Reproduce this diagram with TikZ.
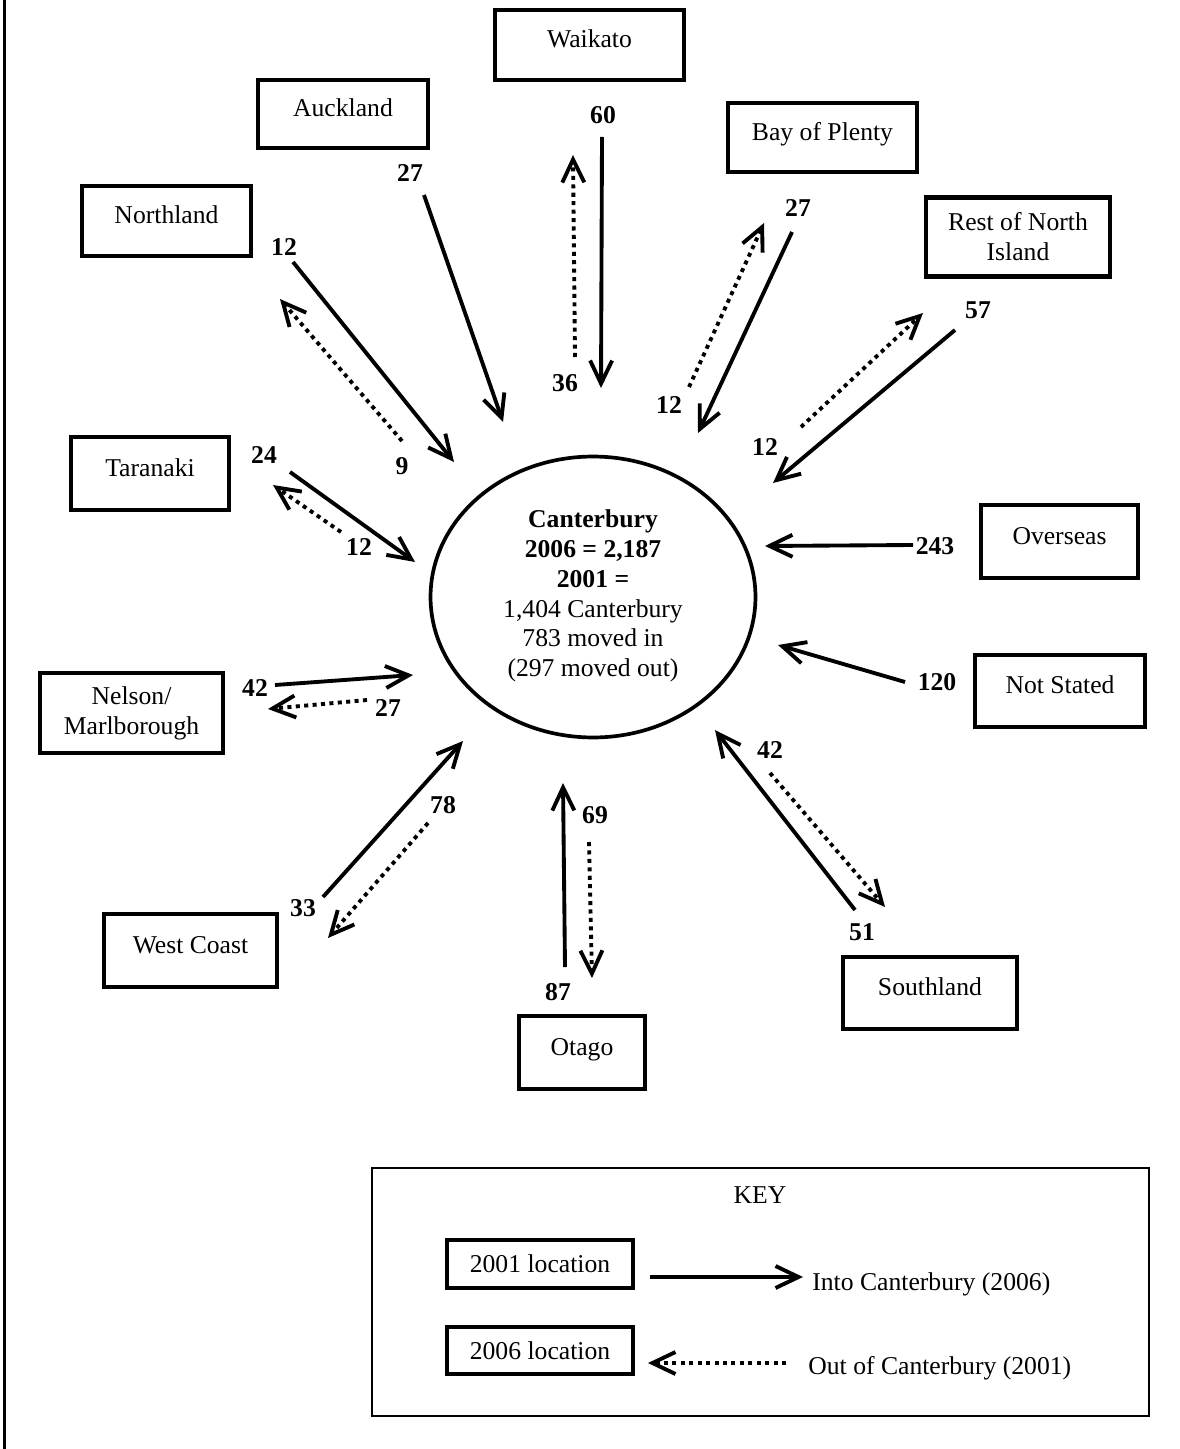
\documentclass[tikz,border=0pt]{standalone}
\usepackage{fontspec}
\setmainfont{Liberation Serif}
\usetikzlibrary{arrows.meta,shapes.geometric}

\begin{document}
\fontsize{14.6}{17}\selectfont
\begin{tikzpicture}[x=0.02cm, y=-0.02cm,
region-base/.style={rectangle, draw=black, line width=2.4pt, align=center, inner sep=0pt},
region/.style={region-base, text height=2ex, text depth=1.5ex},
hub/.style={ellipse, draw=black, line width=2.1pt, minimum width=6.5cm, minimum height=5.62cm},
num/.style={font=\bfseries, inner sep=1pt},
flow-in/.style={line width=2.2pt, -{Straight Barb[length=4.6mm, width=4.4mm]}},
flow-out/.style={flow-in, dash pattern=on 2.3pt off 2.5pt},
key-frame/.style={rectangle, draw=black, line width=0.9pt}
]
\useasboundingbox (0,0) rectangle (1179,1449);
\draw[line width=1.2pt] (4.5,0) -- (4.5,1449);

% centre
\node[hub] (cant) at (593,597) {};
\node[align=center] (cant-text) at (593,596) {\textbf{Canterbury}\\ \textbf{2006 = 2,187}\\ \textbf{2001 =}\\
1,404 Canterbury\\ 783 moved in\\ (297 moved out)};

% regions
\node[region, minimum width=3.38cm, minimum height=1.40cm] (nl) at (166.5,221) {Northland};
\node[region, minimum width=3.40cm, minimum height=1.36cm] (ak) at (343,114) {Auckland};
\node[region, minimum width=3.78cm, minimum height=1.40cm] (wk) at (589.5,45) {Waikato};
\node[region, minimum width=3.78cm, minimum height=1.38cm] (bp) at (822.5,137.5) {Bay of Plenty};
\node[region-base, minimum width=3.68cm, minimum height=1.58cm] (rn) at (1018,237) {Rest of North\\ Island};
\node[region, minimum width=3.16cm, minimum height=1.46cm] (tk) at (150,473.5) {Taranaki};
\node[region, minimum width=3.14cm, minimum height=1.46cm] (os) at (1059.5,541.5) {Overseas};
\node[region, minimum width=3.40cm, minimum height=1.44cm] (ns) at (1060,691) {Not Stated};
\node[region-base, minimum width=3.66cm, minimum height=1.60cm] (nm) at (131.5,713) {Nelson/\\ Marlborough};
\node[region, minimum width=3.46cm, minimum height=1.46cm] (wc) at (190.5,950.5) {West Coast};
\node[region, minimum width=2.52cm, minimum height=1.46cm] (ot) at (582,1052.5) {Otago};
\node[region, minimum width=3.48cm, minimum height=1.44cm] (sl) at (930,993) {Southland};

% Northland
\node[num] (nl-in-n) at (284,247) {12};
\node[num] (nl-out-n) at (402,466) {9};
\coordinate (nl-in-a) at (293,262); \coordinate (nl-in-b) at (454,462);
\coordinate (nl-out-a) at (402,441); \coordinate (nl-out-b) at (280,299);
\draw[flow-in] (nl-in-a) -- (nl-in-b);
\draw[flow-out] (nl-out-a) -- (nl-out-b);

% Auckland
\node[num] (ak-in-n) at (410,173) {27};
\coordinate (ak-in-a) at (424,195); \coordinate (ak-in-b) at (503,422);
\draw[flow-in] (ak-in-a) -- (ak-in-b);

% Waikato
\node[num] (wk-in-n) at (603,115) {60};
\node[num] (wk-out-n) at (565,383) {36};
\coordinate (wk-in-a) at (602,137); \coordinate (wk-in-b) at (601,388);
\coordinate (wk-out-a) at (575,357); \coordinate (wk-out-b) at (573,155);
\draw[flow-in] (wk-in-a) -- (wk-in-b);
\draw[flow-out] (wk-out-a) -- (wk-out-b);

% Bay of Plenty
\node[num] (bp-in-n) at (798,208) {27};
\node[num] (bp-out-n) at (669,405) {12};
\coordinate (bp-in-a) at (792,232); \coordinate (bp-in-b) at (698,433);
\coordinate (bp-out-a) at (689,387); \coordinate (bp-out-b) at (764,223);
\draw[flow-in] (bp-in-a) -- (bp-in-b);
\draw[flow-out] (bp-out-a) -- (bp-out-b);

% Rest of North Island
\node[num] (rn-in-n) at (978,310) {57};
\node[num] (rn-out-n) at (765,447) {12};
\coordinate (rn-in-a) at (955,330); \coordinate (rn-in-b) at (773,483);
\coordinate (rn-out-a) at (801,427); \coordinate (rn-out-b) at (923,313);
\draw[flow-in] (rn-in-a) -- (rn-in-b);
\draw[flow-out] (rn-out-a) -- (rn-out-b);

% Taranaki
\node[num] (tk-in-n) at (264,455) {24};
\node[num] (tk-out-n) at (359,547) {12};
\coordinate (tk-in-a) at (290,472); \coordinate (tk-in-b) at (415,562);
\coordinate (tk-out-a) at (341,532); \coordinate (tk-out-b) at (273,485);
\draw[flow-in] (tk-in-a) -- (tk-in-b);
\draw[flow-out] (tk-out-a) -- (tk-out-b);

% Overseas
\node[num] (os-in-n) at (935,546) {243};
\coordinate (os-in-a) at (913,545); \coordinate (os-in-b) at (765,546);
\draw[flow-in] (os-in-a) -- (os-in-b);

% Not Stated
\node[num] (ns-in-n) at (937,682) {120};
\coordinate (ns-in-a) at (905,682); \coordinate (ns-in-b) at (778,645);
\draw[flow-in] (ns-in-a) -- (ns-in-b);

% Nelson/Marlborough
\node[num] (nm-in-n) at (255,688) {42};
\node[num] (nm-out-n) at (388,708) {27};
\coordinate (nm-in-a) at (275,685); \coordinate (nm-in-b) at (413,675);
\coordinate (nm-out-a) at (367,700); \coordinate (nm-out-b) at (268,709);
\draw[flow-in] (nm-in-a) -- (nm-in-b);
\draw[flow-out] (nm-out-a) -- (nm-out-b);

% West Coast
\node[num] (wc-in-n) at (303,908) {33};
\node[num] (wc-out-n) at (443,805) {78};
\coordinate (wc-in-a) at (323,897); \coordinate (wc-in-b) at (463,741);
\coordinate (wc-out-a) at (428,823); \coordinate (wc-out-b) at (328,938);
\draw[flow-in] (wc-in-a) -- (wc-in-b);
\draw[flow-out] (wc-out-a) -- (wc-out-b);

% Otago
\node[num] (ot-in-n) at (558,992) {87};
\node[num] (ot-out-n) at (595,815) {69};
\coordinate (ot-in-a) at (565,967); \coordinate (ot-in-b) at (563,783);
\coordinate (ot-out-a) at (589,842); \coordinate (ot-out-b) at (592,978);
\draw[flow-in] (ot-in-a) -- (ot-in-b);
\draw[flow-out] (ot-out-a) -- (ot-out-b);

% Southland
\node[num] (sl-in-n) at (862,932) {51};
\node[num] (sl-out-n) at (770,750) {42};
\coordinate (sl-in-a) at (855,910); \coordinate (sl-in-b) at (715,730);
\coordinate (sl-out-a) at (770,773); \coordinate (sl-out-b) at (885,907);
\draw[flow-in] (sl-in-a) -- (sl-in-b);
\draw[flow-out] (sl-out-a) -- (sl-out-b);

% key
\node[key-frame, minimum width=15.54cm, minimum height=4.96cm] (key) at (760.5,1292) {};
\node (key-title) at (760,1195) {KEY};
\node[region-base, minimum width=3.72cm, minimum height=0.96cm] (k01) at (540,1264) {2001 location};
\node[region-base, minimum width=3.72cm, minimum height=0.94cm] (k06) at (540,1350.5) {2006 location};
\coordinate (k-in-a) at (650,1277); \coordinate (k-in-b) at (803,1277);
\coordinate (k-out-a) at (786,1363); \coordinate (k-out-b) at (648,1363);
\draw[flow-in] (k-in-a) -- (k-in-b);
\draw[flow-out] (k-out-a) -- (k-out-b);
\node[anchor=west, inner sep=0pt] (k-in-t) at (812,1284) {Into Canterbury (2006)};
\node[anchor=west, inner sep=0pt] (k-out-t) at (808,1368) {Out of Canterbury (2001)};

\end{tikzpicture}
\end{document}
